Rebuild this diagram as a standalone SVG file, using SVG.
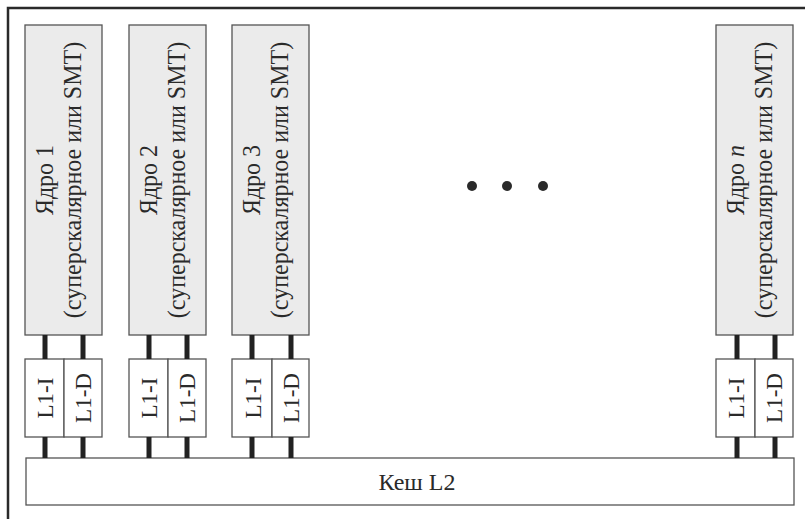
<svg xmlns="http://www.w3.org/2000/svg" width="805" height="519" viewBox="0 0 805 519">
<style>
.frame{fill:none;stroke:#2a2a2a;stroke-width:2.5}
.core{fill:#ebebeb;stroke:#555;stroke-width:1.3}
.l1{fill:#fff;stroke:#555;stroke-width:1.3}
.t{font-family:"Liberation Serif","Times New Roman",serif;font-size:24px;fill:#2a2a2a}
.tl{font-family:"Liberation Serif","Times New Roman",serif;font-size:23px;fill:#2a2a2a}
.bus{stroke:#222;stroke-width:5}
.dot{fill:#2a2a2a}
</style>
<rect width="805" height="519" fill="#fff"/>
<path class="frame" d="M8 519 V8 H805"/>
<g id="core1">
<rect class="core" x="25" y="25" width="77" height="310"/>
<text class="t" text-anchor="middle" transform="translate(53,180) scale(1.08,1) rotate(-90)">Ядро 1</text>
<text class="t" text-anchor="middle" transform="translate(81,180) scale(1.08,1) rotate(-90)">(суперскалярное или SMT)</text>
</g>
<g id="core2">
<rect class="core" x="129" y="25" width="77" height="310"/>
<text class="t" text-anchor="middle" transform="translate(157,180) scale(1.08,1) rotate(-90)">Ядро 2</text>
<text class="t" text-anchor="middle" transform="translate(185,180) scale(1.08,1) rotate(-90)">(суперскалярное или SMT)</text>
</g>
<g id="core3">
<rect class="core" x="232" y="25" width="77" height="310"/>
<text class="t" text-anchor="middle" transform="translate(260,180) scale(1.08,1) rotate(-90)">Ядро 3</text>
<text class="t" text-anchor="middle" transform="translate(288,180) scale(1.08,1) rotate(-90)">(суперскалярное или SMT)</text>
</g>
<g id="coren">
<rect class="core" x="716" y="25" width="77" height="310"/>
<text class="t" text-anchor="middle" transform="translate(744,180) scale(1.08,1) rotate(-90)">Ядро <tspan font-style="italic">n</tspan></text>
<text class="t" text-anchor="middle" transform="translate(772,180) scale(1.08,1) rotate(-90)">(суперскалярное или SMT)</text>
</g>
<g id="l1-1">
<rect class="l1" x="25" y="359" width="39" height="78"/>
<rect class="l1" x="64" y="359" width="38" height="78"/>
<text class="tl" text-anchor="middle" transform="translate(53,398) rotate(-90)">L1-I</text>
<text class="tl" text-anchor="middle" transform="translate(91,398) rotate(-90)">L1-D</text>
</g>
<g id="l1-2">
<rect class="l1" x="129" y="359" width="39" height="78"/>
<rect class="l1" x="168" y="359" width="38" height="78"/>
<text class="tl" text-anchor="middle" transform="translate(157,398) rotate(-90)">L1-I</text>
<text class="tl" text-anchor="middle" transform="translate(195,398) rotate(-90)">L1-D</text>
</g>
<g id="l1-3">
<rect class="l1" x="232" y="359" width="40" height="78"/>
<rect class="l1" x="272" y="359" width="37" height="78"/>
<text class="tl" text-anchor="middle" transform="translate(261,398) rotate(-90)">L1-I</text>
<text class="tl" text-anchor="middle" transform="translate(299,398) rotate(-90)">L1-D</text>
</g>
<g id="l1-n">
<rect class="l1" x="716" y="359" width="39" height="78"/>
<rect class="l1" x="755" y="359" width="38" height="78"/>
<text class="tl" text-anchor="middle" transform="translate(744,398) rotate(-90)">L1-I</text>
<text class="tl" text-anchor="middle" transform="translate(782,398) rotate(-90)">L1-D</text>
</g>
<g id="l2">
<rect class="l1" x="26" y="458" width="768" height="47"/>
<text class="t" text-anchor="middle" x="417" y="490" font-size="22">Кеш L2</text>
</g>
<g id="dots">
<circle class="dot" cx="472" cy="186" r="5"/>
<circle class="dot" cx="507" cy="186" r="5"/>
<circle class="dot" cx="543" cy="186" r="5"/>
</g>
<g id="connectors">
<path class="bus" d="M45 335V359M83 335V359M45 437V458M83 437V458"/>
<path class="bus" d="M149 335V359M187 335V359M149 437V458M187 437V458"/>
<path class="bus" d="M252 335V359M291 335V359M252 437V458M291 437V458"/>
<path class="bus" d="M737 335V359M775 335V359M737 437V458M775 437V458"/>
</g>
</svg>
